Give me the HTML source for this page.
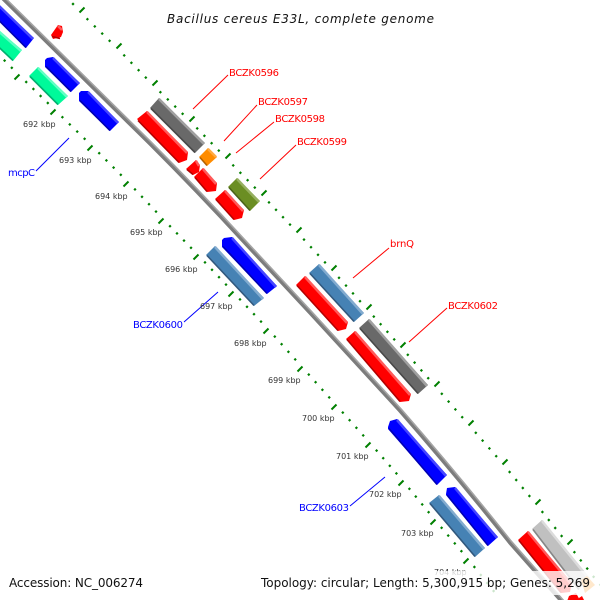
<!DOCTYPE html>
<html><head><meta charset="utf-8"><title>Bacillus cereus E33L, complete genome</title>
<style>
html,body{margin:0;padding:0;background:#fff}
svg{display:block}
text{font-family:"DejaVu Sans",sans-serif}
.k{font-size:8px;fill:#333}
.r{font-size:10px;fill:#f00}
.b{font-size:10px;fill:#00f}
</style></head><body>
<svg width="600" height="600" viewBox="0 0 600 600" xmlns="http://www.w3.org/2000/svg">
<rect width="600" height="600" fill="#fff"/>
<!-- backbone -->
<path d="M-3,-8 L150,143 Q197,190 243,240 L310,312 L400,410 Q456,474 510,542 L570,610" fill="none" stroke="#a4a4a4" stroke-width="4.5"/>
<path d="M-3.6,-7.4 L149.4,143.6 Q196.4,190.6 242.4,240.6 L309.4,312.6 L399.4,410.6 Q455.4,474.6 509.4,542.6 L569.4,610.6" fill="none" stroke="#7c7c7c" stroke-width="3"/>
<!-- ticks -->
<g fill="none" stroke="#008000">
<path transform="translate(-2.5,2.5)" stroke-width="2" d="M82 10l5-5M119 46l5-5M155 83l5-5M192 119l5-5M228 156l5-5M264 193l5-5M299 230l5-5M334 268l5-5M369 307l5-5M403 345l5-5M437 384l5-5M471 423l5-5M505 462l5-5M538 502l5-5M570 542l5-5M602 583l5-5M17 77l5-5M53 112l5-5M90 148l5-5M126 184l5-5M161 221l5-5M196 257l5-5M231 294l5-5M266 331l5-5M300 369l5-5M334 407l5-5M368 445l5-5M401 483l5-5M433 522l5-5M466 561l5-5"/>
<path transform="translate(-.8,.8)" stroke-width="2.2" d="M73 4l1.6-1.6M87.4 19.2l1.6-1.6M94.8 26.4l1.6-1.6M102.2 33.6l1.6-1.6M109.6 40.8l1.6-1.6M124.2 55.4l1.6-1.6M131.4 62.8l1.6-1.6M138.6 70.2l1.6-1.6M145.8 77.6l1.6-1.6M160.4 92.2l1.6-1.6M167.8 99.4l1.6-1.6M175.2 106.6l1.6-1.6M182.6 113.8l1.6-1.6M197.2 128.4l1.6-1.6M204.4 135.8l1.6-1.6M211.6 143.2l1.6-1.6M218.8 150.6l1.6-1.6M233.2 165.4l1.6-1.6M240.4 172.8l1.6-1.6M247.6 180.2l1.6-1.6M254.8 187.6l1.6-1.6M269 202.4l1.6-1.6M276 209.8l1.6-1.6M283 217.2l1.6-1.6M290 224.6l1.6-1.6M304 239.6l1.6-1.6M311 247.2l1.6-1.6M318 254.8l1.6-1.6M325 262.4l1.6-1.6M339 277.8l1.6-1.6M346 285.6l1.6-1.6M353 293.4l1.6-1.6M360 301.2l1.6-1.6M373.8 316.6l1.6-1.6M380.6 324.2l1.6-1.6M387.4 331.8l1.6-1.6M394.2 339.4l1.6-1.6M407.8 354.8l1.6-1.6M414.6 362.6l1.6-1.6M421.4 370.4l1.6-1.6M428.2 378.2l1.6-1.6M441.8 393.8l1.6-1.6M448.6 401.6l1.6-1.6M455.4 409.4l1.6-1.6M462.2 417.2l1.6-1.6M475.8 432.8l1.6-1.6M482.6 440.6l1.6-1.6M489.4 448.4l1.6-1.6M496.2 456.2l1.6-1.6M509.6 472l1.6-1.6M516.2 480l1.6-1.6M522.8 488l1.6-1.6M529.4 496l1.6-1.6M542.4 512l1.6-1.6M548.8 520l1.6-1.6M555.2 528l1.6-1.6M561.6 536l1.6-1.6M574.4 552.2l1.6-1.6M580.8 560.4l1.6-1.6M587.2 568.6l1.6-1.6M593.6 576.8l1.6-1.6M4.6 60.6l1.6-1.6M11.8 67.8l1.6-1.6M26.2 82l1.6-1.6M33.4 89l1.6-1.6M40.6 96l1.6-1.6M47.8 103l1.6-1.6M62.4 117.2l1.6-1.6M69.8 124.4l1.6-1.6M77.2 131.6l1.6-1.6M84.6 138.8l1.6-1.6M99.2 153.2l1.6-1.6M106.4 160.4l1.6-1.6M113.6 167.6l1.6-1.6M120.8 174.8l1.6-1.6M135 189.4l1.6-1.6M142 196.8l1.6-1.6M149 204.2l1.6-1.6M156 211.6l1.6-1.6M170 226.2l1.6-1.6M177 233.4l1.6-1.6M184 240.6l1.6-1.6M191 247.8l1.6-1.6M205 262.4l1.6-1.6M212 269.8l1.6-1.6M219 277.2l1.6-1.6M226 284.6l1.6-1.6M240 299.4l1.6-1.6M247 306.8l1.6-1.6M254 314.2l1.6-1.6M261 321.6l1.6-1.6M274.8 336.6l1.6-1.6M281.6 344.2l1.6-1.6M288.4 351.8l1.6-1.6M295.2 359.4l1.6-1.6M308.8 374.6l1.6-1.6M315.6 382.2l1.6-1.6M322.4 389.8l1.6-1.6M329.2 397.4l1.6-1.6M342.8 412.6l1.6-1.6M349.6 420.2l1.6-1.6M356.4 427.8l1.6-1.6M363.2 435.4l1.6-1.6M376.6 450.6l1.6-1.6M383.2 458.2l1.6-1.6M389.8 465.8l1.6-1.6M396.4 473.4l1.6-1.6M409.4 488.8l1.6-1.6M415.8 496.6l1.6-1.6M422.2 504.4l1.6-1.6M428.6 512.2l1.6-1.6M441.6 527.8l1.6-1.6M448.2 535.6l1.6-1.6M454.8 543.4l1.6-1.6M461.4 551.2l1.6-1.6M474.4 567l1.6-1.6M480.8 575l1.6-1.6M487.2 583l1.6-1.6M493.6 591l1.6-1.6"/>
</g>
<!-- blue genes -->
<g fill="#0000ff">
<polygon points="-6,0 34,38 26,48 -6,16"/>
<polygon points="45,60 47,58 53,57 80,83 71,92 45,67"/>
<polygon points="79,93 81,91 88,91 119,122 110,131 79,101"/>
<polygon points="222,240 224,238 232,237 277,286 267,294 222,247"/>
<polygon points="388,427 390,421 397,419 447,475 437,485 388,429"/>
<polygon points="446,494 447,488 455,487 498,537 488,546 446,495"/>
</g>
<path d="M-6,1 L33,39M53,58 L79,84M88,92 L118,123M232,238 L276,287M397,420 L446,476M455,488 L497,538" stroke="#4646ff" fill="none" stroke-width="2.5"/>
<path d="M-6,15.5 L26,47.5M46,66.5 L71,91.5M80,100.5 L110,130.5M223,246.5 L267,293.5M389,428.5 L437,484.5M447,495 L488,545.5" fill="none" stroke="#0000b4" stroke-width="1.6"/>
<!-- spring green -->
<g fill="#00fa9a">
<polygon points="-5,27 22,50 13,61 -5,44"/>
<polygon points="29,76 38,67 68,96 58,105"/>
</g>
<path d="M-5,28 L21,51M38,68 L67,97" fill="none" stroke="#60ffc4" stroke-width="2.5"/>
<path d="M-5,43.5 L13,60.5M30,76.5 L58,104.5" fill="none" stroke="#00b070" stroke-width="1.6"/>
<!-- red genes -->
<g fill="#ff0000">
<polygon points="51,35 58,25 62,26 63,32 61,37 53,39"/>
<polygon points="137,119 147,111 188,152 187,160 179,163"/>
<polygon points="186,169 196,160 200,165 199,172 193,175"/>
<polygon points="194,177 203,168 217,183 216,191 207,192"/>
<polygon points="215,199 225,190 244,210 242,218 234,220"/>
<polygon points="296,285 305,276 348,322 346,329 338,331"/>
<polygon points="346,339 355,331 411,394 409,401 400,402"/>
<polygon points="518,540 528,531 572,583 570,592 561,593"/>
<polygon points="566,604 569,596 576,593 582,604"/>
<polygon points="577,604 579,598 582,596 586,604"/>
</g>
<path d="M58,26 L62,30M147,112 L187,153M196,161 L199,166M203,169 L216,184M225,191 L243,211M305,277 L347,323M355,332 L410,395M528,532 L571,584" fill="none" stroke="#ff5a5a" stroke-width="2.5"/>
<path d="M52,36.5 L60,38.5M138,120.5 L179,162.5M187,169.5 L193,174.5M195,177.5 L207,191.5M216,199.5 L234,219.5M297,285.5 L338,330.5M347,339.5 L400,401.5M519,540.5 L561,592.5" fill="none" stroke="#b40000" stroke-width="1.6"/>
<!-- grey -->
<g fill="#696969">
<polygon points="150,108 159,98 205,143 195,153"/>
<polygon points="359,328 369,319 428,385 418,394"/>
</g>
<path d="M159,99 L204,144M369,320 L427,386" fill="none" stroke="#a0a0a0" stroke-width="2.5"/>
<path d="M151,108.5 L195,152.5M360,328.5 L418,393.5" fill="none" stroke="#484848" stroke-width="1.6"/>
<!-- silver -->
<polygon points="532,529 542,520 590,578 578,590" fill="#c0c0c0"/>
<path d="M542,521 L589,579" fill="none" stroke="#dcdcdc" stroke-width="2.5"/>
<path d="M533,529.5 L579,589.5" fill="none" stroke="#868686" stroke-width="1.6"/>
<!-- orange -->
<polygon points="199,157 208,148 217,157 207,166" fill="#ff8c00"/>
<path d="M208,149 L216,157" fill="none" stroke="#ffaa40" stroke-width="2.5"/>
<path d="M200,157.5 L207,165.5" fill="none" stroke="#b46200" stroke-width="1.6"/>
<polygon points="581,580 587,576 595,585 585,593" fill="#ff8c00"/>
<!-- olive -->
<polygon points="228,187 237,178 260,201 250,211" fill="#6b8e23"/>
<path d="M237,179 L259,202" fill="none" stroke="#96b060" stroke-width="2.5"/>
<path d="M229,187.5 L250,210.5" fill="none" stroke="#4a6318" stroke-width="1.6"/>
<!-- steel -->
<g fill="#4682b4">
<polygon points="206,255 215,246 264,298 254,306"/>
<polygon points="309,273 319,264 364,313 354,322"/>
<polygon points="429,503 439,495 485,548 475,557"/>
</g>
<path d="M215,247 L263,299M319,265 L363,314M439,496 L484,549" fill="none" stroke="#82abcf" stroke-width="2.5"/>
<path d="M207,255.5 L254,305.5M310,273.5 L354,321.5M430,503.5 L475,556.5" fill="none" stroke="#31587d" stroke-width="1.6"/>
<!-- connectors -->
<g fill="none" stroke-width="1">
<path stroke="#f00" d="M193,109L228,75M224,141L257,105M236,153L274,122M260,179L296,145M353,278L389,248M409,342L447,308"/>
<path stroke="#00f" d="M36,171L69,138M184,322L218,292M350,506L385,477"/>
</g>
<!-- labels -->
<g>
<text class="r" x="229" y="76" textLength="50">BCZK0596</text>
<text class="r" x="258" y="105" textLength="50">BCZK0597</text>
<text class="r" x="275" y="122" textLength="50">BCZK0598</text>
<text class="r" x="297" y="145" textLength="50">BCZK0599</text>
<text class="r" x="390" y="247" textLength="24">brnQ</text>
<text class="r" x="448" y="309" textLength="50">BCZK0602</text>
<text class="b" x="8" y="176" textLength="27">mcpC</text>
<text class="b" x="133" y="328" textLength="50">BCZK0600</text>
<text class="b" x="299" y="511" textLength="50">BCZK0603</text>
<text class="k" x="23" y="127">692 kbp</text>
<text class="k" x="59" y="163">693 kbp</text>
<text class="k" x="95" y="199">694 kbp</text>
<text class="k" x="130" y="235">695 kbp</text>
<text class="k" x="165" y="272">696 kbp</text>
<text class="k" x="200" y="309">697 kbp</text>
<text class="k" x="234" y="346">698 kbp</text>
<text class="k" x="268" y="383">699 kbp</text>
<text class="k" x="302" y="421">700 kbp</text>
<text class="k" x="336" y="459">701 kbp</text>
<text class="k" x="369" y="497">702 kbp</text>
<text class="k" x="401" y="536">703 kbp</text>
<text class="k" x="434" y="575">704 kbp</text>
</g>
<!-- overlay -->
<rect x="0" y="571" width="600" height="24" fill="#fff" fill-opacity="0.8"/>
<text x="167" y="23" font-size="12" font-style="italic" fill="#111" textLength="267" lengthAdjust="spacing">Bacillus cereus E33L, complete genome</text>
<text x="9" y="587" font-size="12" fill="#111" textLength="134" lengthAdjust="spacing">Accession: NC_006274</text>
<text x="261" y="587" font-size="12" fill="#111" textLength="329" lengthAdjust="spacing">Topology: circular; Length: 5,300,915 bp; Genes: 5,269</text>
</svg>
</body></html>
